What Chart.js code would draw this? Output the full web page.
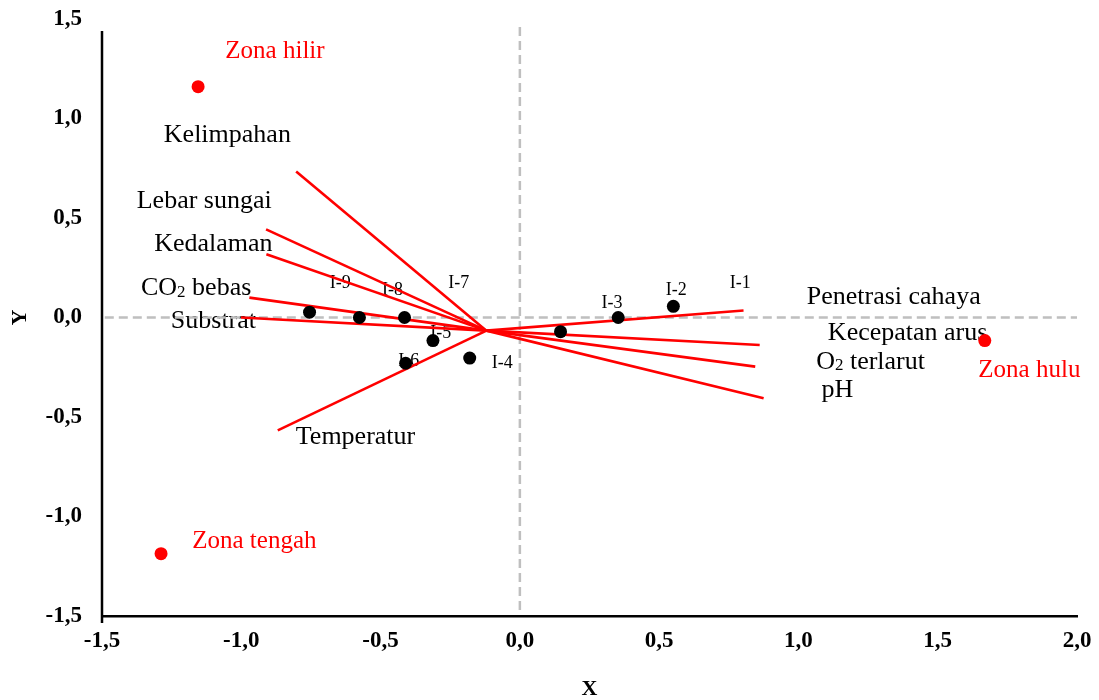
<!DOCTYPE html>
<html>
<head>
    <title>Biplot Zona Sungai</title>
    <meta charset="utf-8">
    <script src="https://cdn.jsdelivr.net/npm/chart.js"></script>
    <style>
        body { margin: 0; background: #ffffff; }
        canvas { display: block; }
    </style>
</head>
<body>
<canvas id="chart" width="1099" height="700"></canvas>
<script>
    // environmental variables: vector tips and where their names are written
    const varNames = ["Kelimpahan", "Lebar sungai", "Kedalaman", "CO₂ bebas", "Substrat", "Temperatur",
                      "Penetrasi cahaya", "Kecepatan arus", "O₂ terlarut", "pH"];
    const varX = [-0.803, -0.911, -0.91, -0.971, -1.001, -0.869, 0.803, 0.861, 0.845, 0.875];
    const varY = [0.734, 0.443, 0.318, 0.10, 0.0, -0.567, 0.035, -0.138, -0.247, -0.406];
    const varLabelX = [-1.05, -1.133, -1.10, -1.162, -1.10, -0.59, 1.342, 1.392, 1.259, 1.14];
    const varLabelY = [0.914, 0.586, 0.369, 0.146, -0.02, -0.60, 0.10, -0.08, -0.222, -0.364];
    const vecOrigin = [-0.12, -0.066];

    // stations
    const siteX = [-0.755, -0.576, -0.414, -0.312, -0.41, -0.18, 0.146, 0.353, 0.551];
    const siteY = [0.027, 0.0, 0.0, -0.116, -0.23, -0.204, -0.071, 0.0, 0.056];
    const siteNames = ["I-1", "I-2", "I-3", "I-4", "I-5", "I-6", "I-7", "I-8", "I-9"];
    const siteLabelX = [0.791, 0.561, 0.331, -0.063, -0.284, -0.399, -0.219, -0.457, -0.645];
    const siteLabelY = [0.173, 0.136, 0.071, -0.232, -0.081, -0.222, 0.172, 0.138, 0.172];

    // zones
    const zoneNames = ["Zona hilir", "Zona tengah", "Zona hulu"];
    const zoneX = [-1.155, -1.288, 1.669];
    const zoneY = [1.16, -1.187, -0.116];
    const zoneLabelX = [-0.879, -0.953, 1.829];
    const zoneLabelY = [1.338, -1.126, -0.268];

    const xMin = -1.5, xMax = 2.0, yMin = -1.5, yMax = 1.5, tickStep = 0.5;
    const yAxisTop = 1.44; // the vertical axis line stops a bit under the top label

    const fmt = v => v.toFixed(1).replace(".", ",");

    function drawText(ctx, text, x, y, size, color) {
        const parts = text.split("₂");
        const big = size + "px 'Liberation Serif'";
        const small = Math.round(size * 0.65) + "px 'Liberation Serif'";
        let total = 0;
        parts.forEach((p, i) => {
            ctx.font = big;
            total += ctx.measureText(p).width;
            if (i < parts.length - 1) {
                ctx.font = small;
                total += ctx.measureText("2").width;
            }
        });
        let cx = x - total / 2;
        ctx.fillStyle = color;
        ctx.textAlign = "left";
        ctx.textBaseline = "middle";
        parts.forEach((p, i) => {
            ctx.font = big;
            ctx.fillText(p, cx, y);
            cx += ctx.measureText(p).width;
            if (i < parts.length - 1) {
                ctx.font = small;
                ctx.fillText("2", cx, y + size * 0.15);
                cx += ctx.measureText("2").width;
            }
        });
    }

    const textPlugin = {
        id: "texts",
        beforeDatasetsDraw(chart) {
            const ctx = chart.ctx;
            const sx = chart.scales.x, sy = chart.scales.y;
            ctx.save();
            varNames.forEach((n, i) => {
                drawText(ctx, n, sx.getPixelForValue(varLabelX[i]), sy.getPixelForValue(varLabelY[i]), 26, "#000000");
            });
            siteNames.forEach((n, i) => {
                drawText(ctx, n, sx.getPixelForValue(siteLabelX[i]), sy.getPixelForValue(siteLabelY[i]), 18, "#000000");
            });
            zoneNames.forEach((n, i) => {
                drawText(ctx, n, sx.getPixelForValue(zoneLabelX[i]), sy.getPixelForValue(zoneLabelY[i]), 25, "#ff0000");
            });
            ctx.restore();
        },
        afterDraw(chart) {
            // left axis line, drawn by hand so it can start below the top tick
            const ctx = chart.ctx;
            const sx = chart.scales.x, sy = chart.scales.y;
            const x = sx.getPixelForValue(xMin);
            ctx.save();
            ctx.strokeStyle = "#000000";
            ctx.lineWidth = 2.5;
            ctx.beginPath();
            ctx.moveTo(x, sy.getPixelForValue(yAxisTop));
            ctx.lineTo(x, sy.getPixelForValue(yMin) + 7);
            ctx.stroke();
            ctx.restore();
        }
    };

    const datasets = [];
    datasets.push({
        label: "Zona",
        data: zoneX.map((x, i) => ({ x: x, y: zoneY[i] })),
        pointRadius: 6.5,
        pointBackgroundColor: "#ff0000",
        pointBorderWidth: 0,
        showLine: false
    });
    datasets.push({
        label: "Stasiun",
        data: siteX.map((x, i) => ({ x: x, y: siteY[i] })),
        pointRadius: 6.5,
        pointBackgroundColor: "#000000",
        pointBorderWidth: 0,
        showLine: false
    });
    varNames.forEach((n, i) => {
        datasets.push({
            label: n,
            data: [{ x: vecOrigin[0], y: vecOrigin[1] }, { x: varX[i], y: varY[i] }],
            showLine: true,
            borderColor: "#ff0000",
            borderWidth: 2.6,
            pointRadius: 0
        });
    });
    // dashed zero lines
    datasets.push({
        label: "x0",
        data: [{ x: 0, y: yMin + 0.03 }, { x: 0, y: yMax - 0.04 }],
        showLine: true,
        borderColor: "#bfbfbf",
        borderWidth: 2.5,
        borderDash: [9, 5],
        pointRadius: 0
    });
    datasets.push({
        label: "y0",
        data: [{ x: xMin + 0.01, y: 0 }, { x: xMax, y: 0 }],
        showLine: true,
        borderColor: "#bfbfbf",
        borderWidth: 2.5,
        borderDash: [9, 5],
        pointRadius: 0
    });

    const tickFont = { family: "'Liberation Serif'", size: 23, weight: "bold" };
    const titleFont = { family: "'Liberation Serif'", size: 22, weight: "bold", lineHeight: 1 };

    new Chart(document.getElementById("chart").getContext("2d"), {
        type: "scatter",
        data: { datasets: datasets },
        options: {
            responsive: false,
            animation: false,
            devicePixelRatio: 1,
            layout: { padding: { top: 19, right: 22, left: 0, bottom: 0 } },
            plugins: { legend: { display: false }, tooltip: { enabled: false } },
            scales: {
                x: {
                    type: "linear",
                    min: xMin, max: xMax,
                    grid: { display: false, drawTicks: false },
                    border: { display: true, color: "#000000", width: 2.5 },
                    ticks: { stepSize: tickStep, autoSkip: false, maxRotation: 0, padding: 11, color: "#000000", font: tickFont, callback: v => fmt(v) },
                    title: { display: true, text: "X", color: "#000000", font: titleFont, padding: { top: 0, bottom: 0 } },
                    afterFit: s => { s.height = 84; s.paddingLeft = 0; s.paddingRight = 0; }
                },
                y: {
                    type: "linear",
                    min: yMin, max: yMax,
                    grid: { display: false, drawTicks: false },
                    border: { display: false },
                    ticks: { stepSize: tickStep, autoSkip: false, padding: 20, color: "#000000", font: tickFont, callback: v => fmt(v) },
                    title: { display: true, text: "Y", color: "#000000", font: titleFont, padding: { top: 9, bottom: 9 } },
                    afterFit: s => { s.width = 102; s.paddingTop = 0; s.paddingBottom = 0; }
                }
            }
        },
        plugins: [textPlugin]
    });
</script>
</body>
</html>
